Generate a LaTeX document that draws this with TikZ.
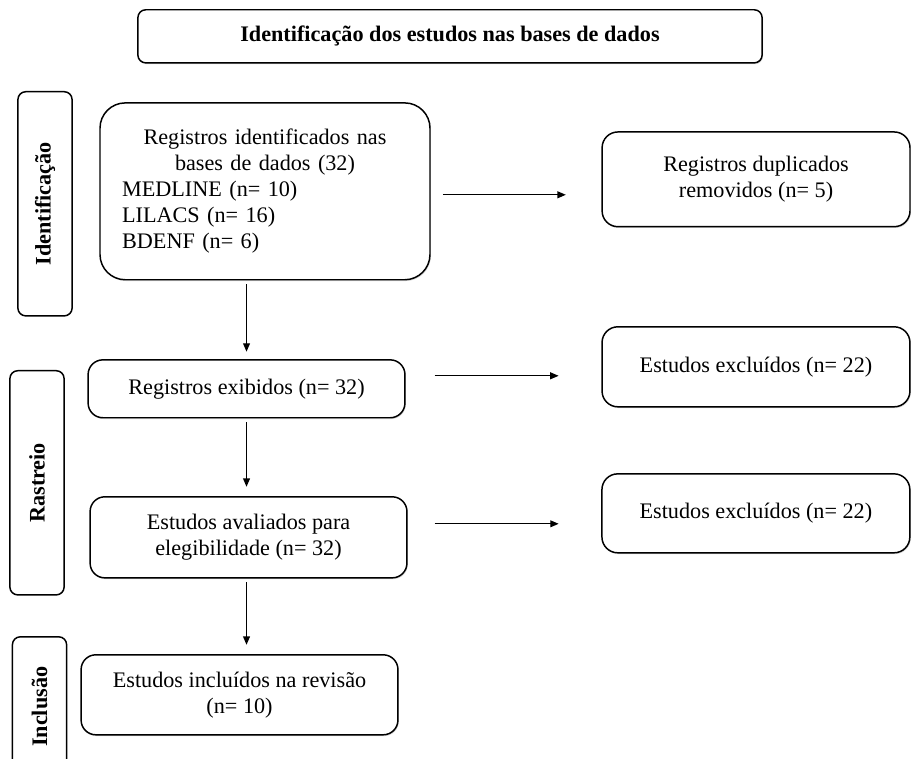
\documentclass[tikz,border=0pt]{standalone}
\usepackage{fontspec}
\setmainfont{Liberation Serif}
\usepackage{graphicx}
\usepackage{tikz}
\usetikzlibrary{shapes, arrows.meta, positioning, calc, shadows}
\tikzstyle{header} = [rectangle, rounded corners=0.15cm, minimum width=11.86cm, minimum height=1.01cm, text centered, draw=black, line width=0.8pt, fill=white, font=\fontsize{12}{14}\selectfont\bfseries, drop shadow={shadow xshift=0.5pt, shadow yshift=-0.7pt, fill=black!30}]
\tikzstyle{phase} = [rectangle, rounded corners=0.15cm, minimum height=4.26cm, minimum width=1.03cm, text centered, draw=black, line width=0.8pt, font=\fontsize{12}{14}\selectfont\bfseries]
\tikzstyle{record} = [rectangle, rounded corners=0.28cm, minimum width=6.02cm, text centered, align=center, draw=black, line width=0.8pt, fill=white, font=\fontsize{12}{14}\selectfont, drop shadow={shadow xshift=0.5pt, shadow yshift=-0.7pt, fill=black!30}]
\tikzstyle{bigrecord} = [rectangle, rounded corners=0.48cm, text width=5.43cm, inner xsep=0.42cm, minimum height=3.36cm, draw=black, line width=0.8pt, fill=white, font=\fontsize{12}{14}\selectfont, drop shadow={shadow xshift=0.5pt, shadow yshift=-0.7pt, fill=black!30}]
\tikzstyle{excluded} = [rectangle, rounded corners=0.3cm, minimum width=5.85cm, text centered, align=center, draw=black, line width=0.8pt, fill=white, font=\fontsize{12}{14}\selectfont, drop shadow={shadow xshift=0.5pt, shadow yshift=-0.7pt, fill=black!30}]

\begin{document}
\begin{tikzpicture}[node distance=4cm]
\useasboundingbox (0,0) rectangle (17.328,-14.402);
\node (title) [header] at (8.55,-0.69) {Identificação dos estudos nas bases de dados};
\node (reg) [bigrecord, below of=title, xshift=-3.515cm, yshift=1.055cm] {\centering Registros identificados nas\\ bases de dados (32)\par\raggedright MEDLINE (n= 10)\\ LILACS (n= 16)\\ BDENF (n= 6)};
\node (exib) [record, minimum height=1.1cm, below of=reg, xshift=-0.351cm, yshift=0.248cm] {Registros exibidos (n= 32)};
\node (aval) [record, minimum height=1.54cm, below of=exib, xshift=0.038cm, yshift=1.178cm] {Estudos avaliados para\\ elegibilidade (n= 32)};
\node (incl) [record, minimum height=1.52cm, below of=aval, xshift=-0.171cm, yshift=1.008cm] {Estudos incluídos na revisão\\ (n= 10)};
\node (ident) [phase, left of=reg, xshift=-0.18cm, yshift=-0.237cm] {\rotatebox{90}{Identificação}};
\node (rastr) [phase, below of=ident, xshift=-0.152cm, yshift=-1.301cm] {\rotatebox{90}{Rastreio}};
\node (inclu) [phase, minimum height=2.66cm, left of=incl, xshift=0.2cm, yshift=-0.228cm] {\rotatebox{90}{Inclusão}};
\node (dup) [excluded, minimum height=1.8cm, right of=reg, xshift=5.33cm, yshift=0.228cm] {Registros duplicados\\ removidos (n= 5)};
\node (exc1) [excluded, minimum height=1.52cm, right of=exib, xshift=5.68cm, yshift=0.418cm] {Estudos excluídos (n= 22)};
\node (exc2) [excluded, minimum height=1.5cm, right of=aval, xshift=5.64cm, yshift=0.456cm] {Estudos excluídos (n= 22)};

\coordinate (d1a) at ($(reg.east)+(0.23,-0.066)$);
\coordinate (d1b) at ($(d1a)+(2.337,0)$);
\coordinate (d2a) at ($(exib.east)+(0.55,0.247)$);
\coordinate (d2b) at ($(d2a)+(2.356,0)$);
\coordinate (d3a) at ($(aval.east)+(0.513,0.257)$);
\coordinate (d3b) at ($(d3a)+(2.356,0)$);

\draw[line width=0.7pt, -{Triangle[length=1.6mm, width=1.3mm]}, shorten <=2pt, shorten >=4pt] (reg.south -| exib.north) -- (exib.north);
\draw[line width=0.7pt, -{Triangle[length=1.6mm, width=1.3mm]}, shorten <=2pt, shorten >=5pt] (exib.south) -- (aval.north -| exib.south);
\draw[line width=0.7pt, -{Triangle[length=1.6mm, width=1.3mm]}, shorten <=2pt, shorten >=5pt] (aval.south -| exib.south) -- (incl.north -| exib.south);
\draw[line width=0.7pt, -{Triangle[length=1.6mm, width=1.3mm]}] (d1a) -- (d1b);
\draw[line width=0.7pt, -{Triangle[length=1.6mm, width=1.3mm]}] (d2a) -- (d2b);
\draw[line width=0.7pt, -{Triangle[length=1.6mm, width=1.3mm]}] (d3a) -- (d3b);
\end{tikzpicture}
\end{document}
